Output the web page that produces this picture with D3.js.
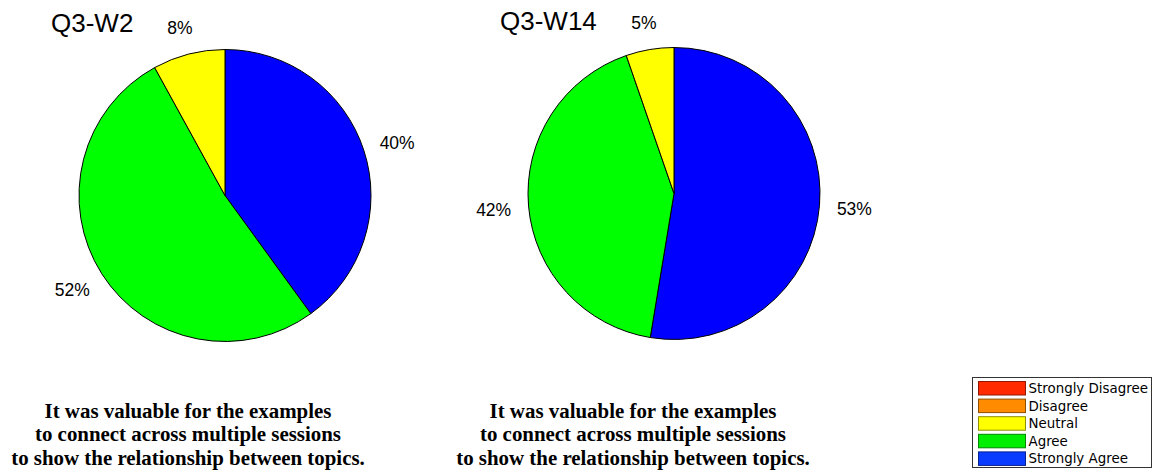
<!DOCTYPE html>
<html>
<head>
<meta charset="utf-8">
<script src="https://cdn.jsdelivr.net/npm/d3@7"></script>
<style>
  html, body { margin: 0; padding: 0; background: #fff; }
  svg { display: block; }
</style>
</head>
<body>
<svg id="chart" width="1156" height="474"></svg>
<script>
// ---- data ----
const categories = ["Strongly Disagree", "Disagree", "Neutral", "Agree", "Strongly Agree"];
const pieColors = ["#ff0000", "#ff8000", "#ffff00", "#00ff00", "#0000ff"];
const legendColors = ["#ff2a00", "#ff8c00", "#ffff00", "#00ee00", "#0a3cff"];
const titles = ["Q3-W2", "Q3-W14"];
const valuesW2 = [0, 0, 8, 52, 40];
const valuesW14 = [0, 0, 5.3, 42.1, 52.6];
const captionLines = [
  "It was valuable for the examples",
  "to connect across multiple sessions",
  "to show the relationship between topics."
];

// ---- layout ----
const svg = d3.select("#chart");
const panels = [
  { title: titles[0], values: valuesW2, cx: 225, cy: 195.5, capX: 188 },
  { title: titles[1], values: valuesW14, cx: 674, cy: 193.5, capX: 633 }
];
const R = 146;
const labelRx = 181;
const labelRy = 174;

const pie = d3.pie().sort(null).value(d => d.value).startAngle(0).endAngle(2 * Math.PI);
const arc = d3.arc().innerRadius(0).outerRadius(R);

panels.forEach(p => {
  const rows = categories.map((c, i) => ({ cat: c, value: p.values[i], color: pieColors[i] }))
    .reverse()
    .filter(d => d.value > 0);
  const total = d3.sum(rows, d => d.value);
  const arcs = pie(rows);
  const g = svg.append("g").attr("transform", `translate(${p.cx},${p.cy})`);

  g.selectAll("path.slice").data(arcs).join("path")
    .attr("class", "slice")
    .attr("d", arc)
    .attr("fill", d => d.data.color)
    .attr("stroke", "#000")
    .attr("stroke-width", 1)
    .attr("stroke-linejoin", "round");

  g.selectAll("text.pct").data(arcs).join("text")
    .attr("class", "pct")
    .attr("transform", d => {
      const a = (d.startAngle + d.endAngle) / 2;
      const x = labelRx * Math.sin(a);
      const y = -labelRy * Math.cos(a) + 1.5;
      return `translate(${x},${y})`;
    })
    .attr("text-anchor", "middle")
    .attr("dominant-baseline", "central")
    .attr("font-family", "'Liberation Sans', Arial, Helvetica, sans-serif")
    .attr("font-size", 17.5)
    .attr("fill", "#000")
    .text(d => Math.round(d.data.value / total * 100) + "%");

  g.append("text")
    .attr("x", -R - 28)
    .attr("y", -163.5)
    .attr("font-family", "'Liberation Sans', Arial, Helvetica, sans-serif")
    .attr("font-size", 26)
    .attr("fill", "#000")
    .text(p.title);

  svg.append("g").selectAll("text").data(captionLines).join("text")
    .attr("x", p.capX)
    .attr("y", (d, i) => 417.5 + i * 23.7)
    .attr("text-anchor", "middle")
    .attr("font-family", "'Liberation Serif', 'Times New Roman', serif")
    .attr("font-weight", "bold")
    .attr("font-size", 20.9)
    .attr("fill", "#000")
    .text(d => d);
});

// ---- legend ----
const lg = svg.append("g");
lg.append("rect")
  .attr("x", 972.5).attr("y", 377.5)
  .attr("width", 179).attr("height", 90)
  .attr("fill", "#fff").attr("stroke", "#333").attr("stroke-width", 1);

const items = lg.selectAll("g.item").data(categories).join("g")
  .attr("class", "item")
  .attr("transform", (d, i) => `translate(978.5,${381.5 + i * 17.6})`);

items.append("rect")
  .attr("width", 47).attr("height", 13.5)
  .attr("fill", (d, i) => legendColors[i])
  .attr("stroke", (d, i) => d3.color(legendColors[i]).darker(1.6))
  .attr("stroke-width", 1);

items.append("text")
  .attr("x", 50).attr("y", 7)
  .attr("dominant-baseline", "central")
  .attr("font-family", "'DejaVu Sans', Verdana, sans-serif")
  .attr("font-size", 13.4)
  .attr("fill", "#000")
  .text(d => d);
</script>
</body>
</html>
